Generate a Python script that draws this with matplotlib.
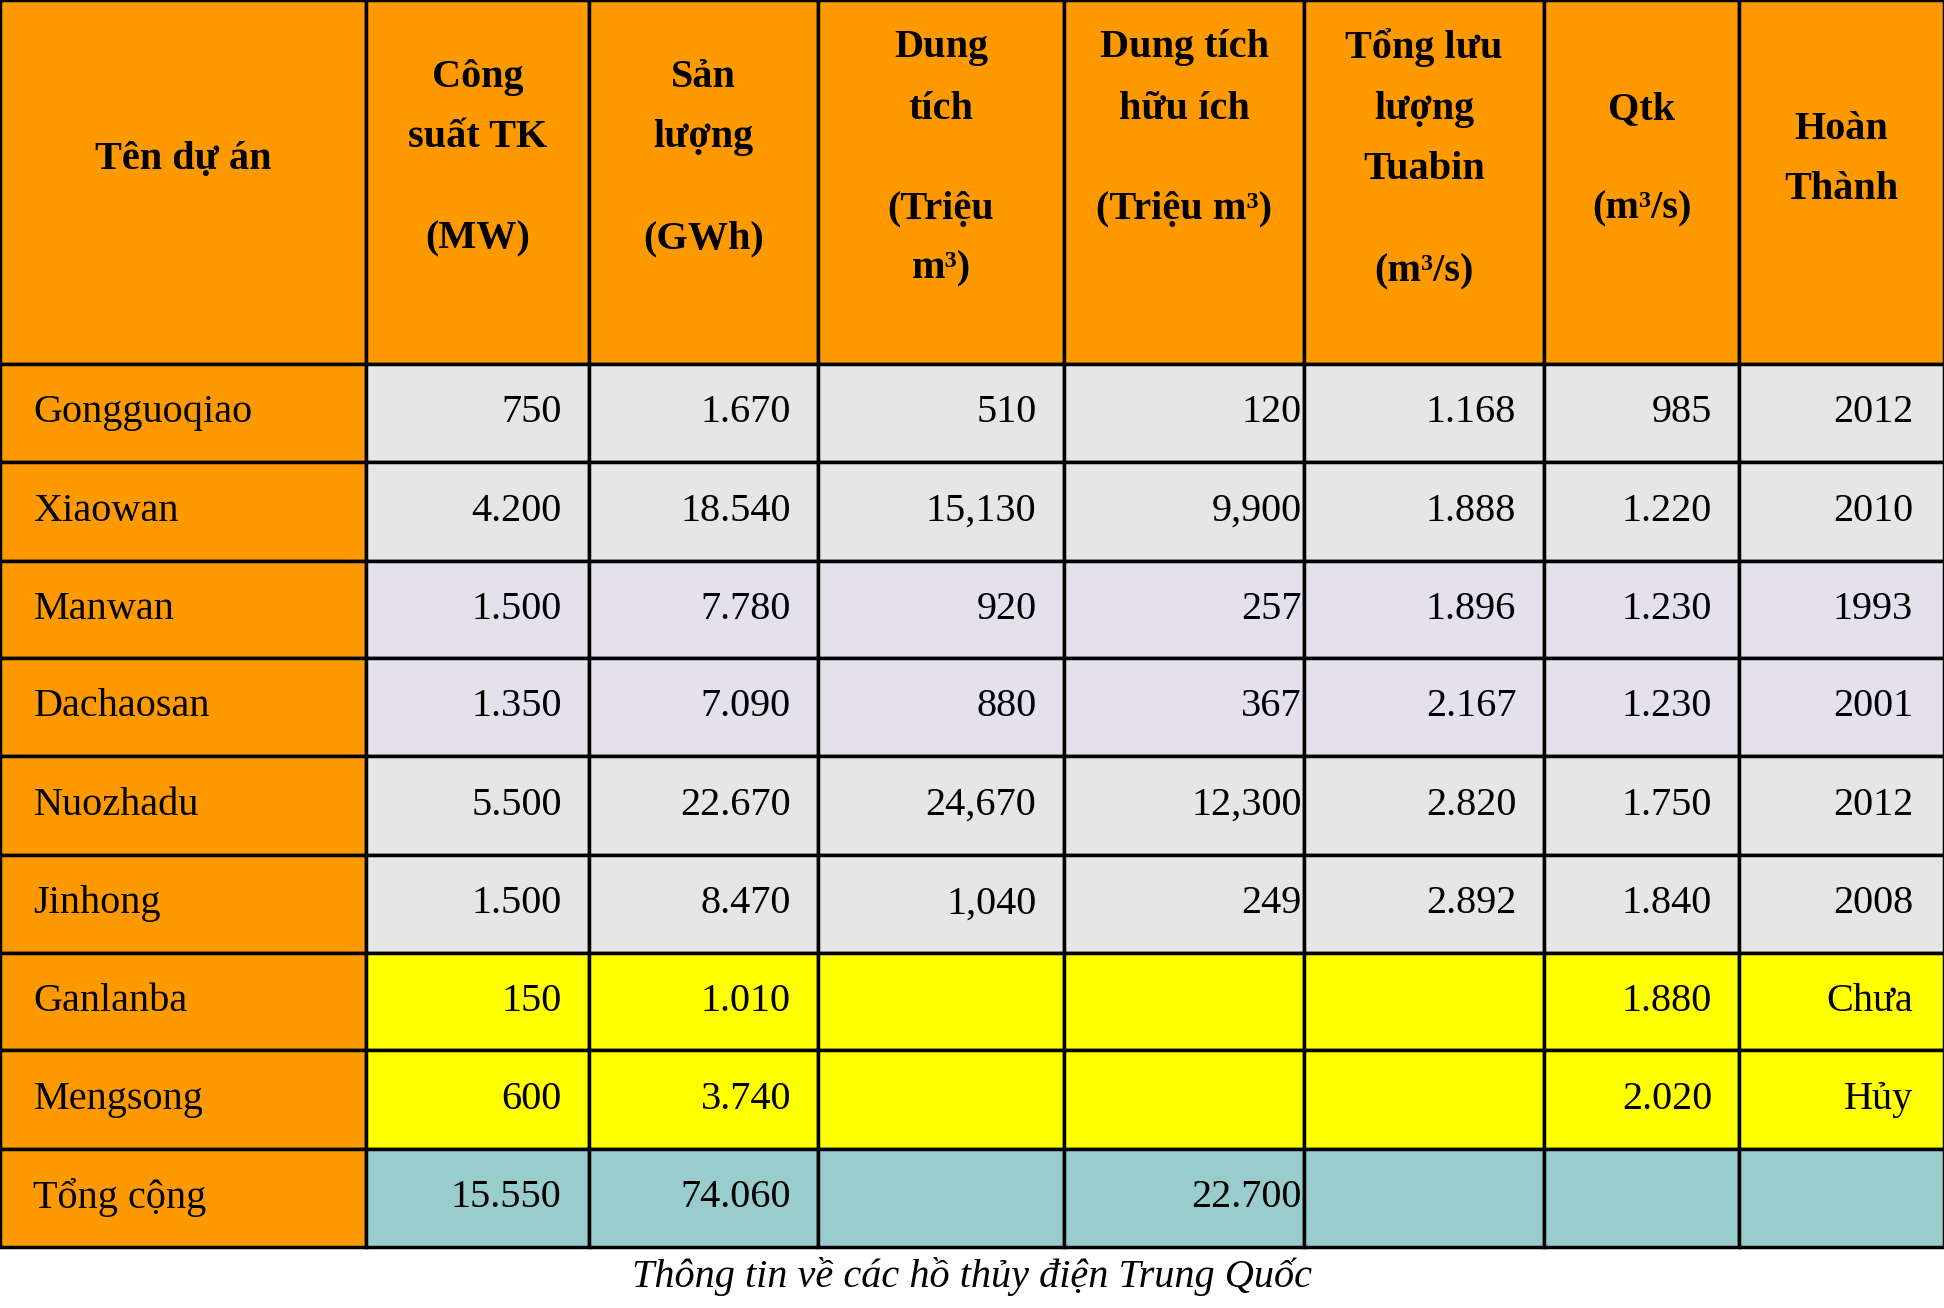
import matplotlib.pyplot as plt
from matplotlib.patches import Rectangle

plt.rcParams['font.family'] = ['Liberation Serif', 'DejaVu Serif']

projects = ["Gongguoqiao", "Xiaowan", "Manwan", "Dachaosan", "Nuozhadu",
            "Jinhong", "Ganlanba", "Mengsong", "Tổng cộng"]
capacity = ["750", "4.200", "1.500", "1.350", "5.500", "1.500", "150", "600", "15.550"]
output = ["1.670", "18.540", "7.780", "7.090", "22.670", "8.470", "1.010", "3.740", "74.060"]
volume = ["510", "15,130", "920", "880", "24,670", "1,040", "", "", ""]
useful = ["120", "9,900", "257", "367", "12,300", "249", "", "", "22.700"]
turbine = ["1.168", "1.888", "1.896", "2.167", "2.820", "2.892", "", "", ""]
qtk = ["985", "1.220", "1.230", "1.230", "1.750", "1.840", "1.880", "2.020", ""]
finished = ["2012", "2010", "1993", "2001", "2012", "2008", "Chưa", "Hủy", ""]

headers = [
    [("Tên dự án", 128)],
    [("Công", 62), ("suất TK", 110), ("(MW)", 192)],
    [("Sản", 62), ("lượng", 110), ("(GWh)", 192)],
    [("Dung", 38), ("tích", 88), ("(Triệu", 168), ("m³)", 216)],
    [("Dung tích", 38), ("hữu ích", 88), ("(Triệu m³)", 168)],
    [("Tổng lưu", 38), ("lượng", 88), ("Tuabin", 136), ("(m³/s)", 218)],
    [("Qtk", 88), ("(m³/s)", 168)],
    [("Hoàn", 104), ("Thành", 152)],
]
caption = "Thông tin về các hồ thủy điện Trung Quốc"

xs = [0, 295, 475, 660, 858, 1052, 1245, 1403, 1568]
ys = [0, 292, 371, 450, 528, 607, 686, 765, 843, 922, 1001]
orange, grey, lav, yellow, teal = "#FF9900", "#E6E6E6", "#E4E0EC", "#FFFF00", "#99CCCC"
row_colors = [grey, grey, lav, lav, grey, grey, yellow, yellow, teal]

fig = plt.figure(figsize=(19.44, 13.08), dpi=100)
ax = fig.add_axes([0, 0, 1, 1])
ax.set_xlim(0, 1568)
ax.set_ylim(1050, 0)
ax.axis('off')

fs = 29
# header
for c in range(8):
    ax.add_patch(Rectangle((xs[c], 0), xs[c + 1] - xs[c], ys[1], fc=orange, ec='black', lw=2.5))
    cx = (xs[c] + xs[c + 1]) / 2
    for t, y in headers[c]:
        ax.text(cx, y, t, ha='center', va='center', fontsize=fs, fontweight='bold')

cols = [capacity, output, volume, useful, turbine, qtk, finished]
pads = [22, 22, 22, 2, 22, 22, 25]
for r in range(9):
    y0, y1 = ys[r + 1], ys[r + 2]
    cy = (y0 + y1) / 2
    ax.add_patch(Rectangle((0, y0), xs[1], y1 - y0, fc=orange, ec='black', lw=2.5))
    ax.text(27, cy, projects[r], ha='left', va='center', fontsize=fs)
    for c in range(7):
        ax.add_patch(Rectangle((xs[c + 1], y0), xs[c + 2] - xs[c + 1], y1 - y0,
                               fc=row_colors[r], ec='black', lw=2.5))
        ax.text(xs[c + 2] - pads[c], cy, cols[c][r], ha='right', va='center', fontsize=fs)

ax.text(784, 1025, caption, ha='center', va='center', fontsize=fs, style='italic')
fig.savefig("out.png", dpi=100)
